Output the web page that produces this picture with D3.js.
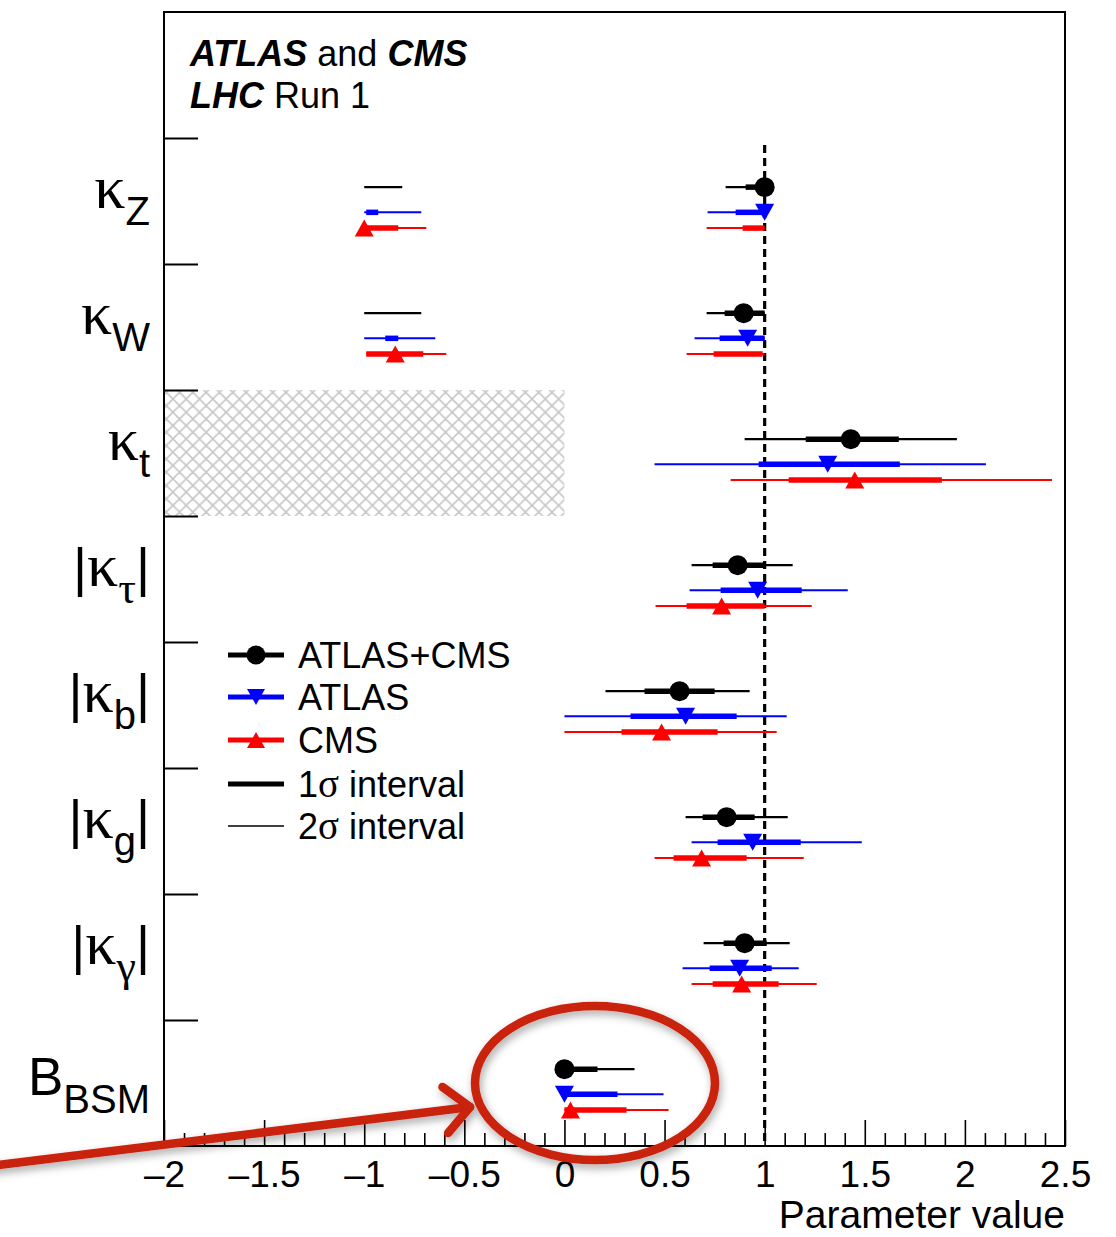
<!DOCTYPE html>
<html><head><meta charset="utf-8">
<script src="https://cdn.jsdelivr.net/npm/d3@7"></script>
<style>body{margin:0;background:#fff}</style>
</head><body>
<script>
// ---------------- data ----------------
const parameters = ["kZ","kW","kt","ktau","kb","kg","kgamma","BBSM"];
const labelPre  = ["", "", "", "|", "|", "|", "|", ""];
const labelMain = ["κ","κ","κ","κ","κ","κ","κ","B"];
const labelSub  = ["Z","W","t","τ","b","g","γ","BSM"];
const labelPost = ["", "", "", "|", "|", "|", "|", ""];

const seriesNames = ["ATLAS+CMS","ATLAS","CMS"];
const seriesColors = ["#000000","#0000ff","#ff0000"];

// central values
const comboCentral = [1.0, 0.895, 1.43, 0.865, 0.575, 0.81, 0.90, 0.0];
const atlasCentral = [1.0, 0.915, 1.315, 0.965, 0.605, 0.94, 0.875, 0.0];
const cmsCentral   = [-1.0, -0.845, 1.45, 0.785, 0.485, 0.685, 0.885, 0.03];

// 1 sigma intervals (list of segments per parameter)
const combo1s = [[[0.905,1.0]], [[0.80,1.0]], [[1.205,1.67]], [[0.74,1.0]], [[0.40,0.75]], [[0.69,0.95]], [[0.795,1.01]], [[0,0.165]]];
const atlas1s = [[[-0.99,-0.93],[0.855,1.0]], [[-0.895,-0.83],[0.775,1.0]], [[0.97,1.675]], [[0.78,1.185]], [[0.33,0.86]], [[0.765,1.18]], [[0.725,1.035]], [[0,0.265]]];
const cms1s   = [[[-1.0,-0.83],[0.89,1.0]], [[-0.99,-0.705],[0.745,0.99]], [[1.12,1.885]], [[0.61,1.0]], [[0.285,0.765]], [[0.545,0.91]], [[0.74,1.07]], [[0,0.31]]];

// 2 sigma intervals
const combo2s = [[[-1.0,-0.81],[0.805,1.0]], [[-1.0,-0.715],[0.71,1.0]], [[0.90,1.96]], [[0.635,1.14]], [[0.205,0.925]], [[0.605,1.115]], [[0.695,1.125]], [[0,0.35]]];
const atlas2s = [[[-1.0,-0.715],[0.715,1.0]], [[-1.0,-0.645],[0.65,1.0]], [[0.45,2.105]], [[0.625,1.415]], [[0.0,1.11]], [[0.635,1.485]], [[0.59,1.17]], [[0,0.495]]];
const cms2s   = [[[-1.0,-0.69],[0.71,1.0]], [[-0.99,-0.59],[0.61,1.0]], [[0.83,2.435]], [[0.455,1.235]], [[0.0,1.06]], [[0.45,1.195]], [[0.635,1.26]], [[0,0.52]]];

const xMajorTicks = [-2,-1.5,-1,-0.5,0,0.5,1,1.5,2,2.5];
const xTickLabels = ["–2","–1.5","–1","–0.5","0","0.5","1","1.5","2","2.5"];
const legendLabels = ["ATLAS+CMS","ATLAS","CMS","1σ interval","2σ interval"];
const excludedRegion = {param: "kt", from: -2, to: 0};
const smValue = 1;

// ---------------- layout ----------------
const W = 1116, H = 1237;
const L = 164, R = 1065, T = 12, B = 1146;
const svg = d3.select("body").append("svg").attr("width", W).attr("height", H)
  .style("font-family", "'Liberation Sans', Arial, sans-serif");

const x = d3.scaleLinear().domain([-2, 2.5]).range([L, R]);
const yBin = d3.scaleLinear().domain([0, 9]).range([T, B]); // bin 0 = empty header row
const yCenter = i => yBin(i + 1.5);
const offsets = [-0.11, 0.09, 0.215];
const yS = (i, s) => yBin(i + 1.5 + offsets[s]);

const defs = svg.append("defs");
const pat = defs.append("pattern").attr("id","hatch").attr("patternUnits","userSpaceOnUse")
  .attr("width", 13.3).attr("height", 13.3);
pat.append("path").attr("d","M0,0L13.3,13.3M13.3,0L0,13.3M-6.65,6.65L6.65,-6.65M6.65,19.95L19.95,6.65M-6.65,6.65L6.65,19.95M6.65,-6.65L19.95,6.65")
  .attr("stroke","#c6c6c6").attr("stroke-width",1.6).attr("fill","none");
const flt = defs.append("filter").attr("id","shadow").attr("x","-20%").attr("y","-20%").attr("width","140%").attr("height","140%");
flt.append("feDropShadow").attr("dx",2).attr("dy",4).attr("stdDeviation",4).attr("flood-color","#000").attr("flood-opacity",0.35);

// hatched excluded region
const ei = parameters.indexOf(excludedRegion.param);
svg.append("rect").attr("x", x(excludedRegion.from)).attr("y", yBin(ei + 1))
  .attr("width", x(excludedRegion.to) - x(excludedRegion.from)).attr("height", yBin(ei + 2) - yBin(ei + 1))
  .attr("fill", "url(#hatch)");

// SM dashed line
svg.append("line").attr("x1", x(smValue)).attr("x2", x(smValue)).attr("y1", yBin(1) + 7).attr("y2", B)
  .attr("stroke","#000").attr("stroke-width",3.2).attr("stroke-dasharray","8,5");

// frame
svg.append("rect").attr("x", L).attr("y", T).attr("width", R - L).attr("height", B - T)
  .attr("fill","none").attr("stroke","#000").attr("stroke-width",2);

// x axis ticks (inside)
const xMinor = d3.range(-2, 2.5001, 0.1).map(v => Math.round(v*10)/10).filter(v => !xMajorTicks.includes(v));
const axMinor = svg.append("g").attr("transform", `translate(0,${B})`)
  .call(d3.axisBottom(x).tickValues(xMinor).tickSize(-13).tickFormat(""));
const axMajor = svg.append("g").attr("transform", `translate(0,${B})`)
  .call(d3.axisBottom(x).tickValues(xMajorTicks).tickSize(-26).tickPadding(15)
    .tickFormat((d, i) => xTickLabels[i]));
[axMinor, axMajor].forEach(g => {
  g.select(".domain").remove();
  g.selectAll("line").attr("stroke","#000").attr("stroke-width",1.6);
});
axMajor.selectAll("text").attr("font-size", 37).attr("font-family","'Liberation Sans', Arial, sans-serif").attr("fill","#000");

// y axis ticks at bin edges
const yAx = svg.append("g").attr("transform", `translate(${L},0)`)
  .call(d3.axisLeft(yBin).tickValues(d3.range(1, 9)).tickSize(-34).tickFormat(""));
yAx.select(".domain").remove();
yAx.selectAll("line").attr("stroke","#000").attr("stroke-width",2);

// axis title
svg.append("text").attr("x", R).attr("y", 1228).attr("text-anchor","end")
  .attr("font-size", 39).text("Parameter value");

// y labels
const serif = "'Liberation Serif','DejaVu Serif',serif";
const sans = "'Liberation Sans', Arial, sans-serif";
parameters.forEach((p, i) => {
  const isB = labelMain[i] === "B";
  const base = yCenter(i) + (isB ? 12 : 7);
  const t = svg.append("text").attr("x", 150).attr("y", base).attr("text-anchor","end");
  if (labelPre[i]) t.append("tspan").attr("font-family", sans).attr("font-size", 54).text(labelPre[i]);
  t.append("tspan").attr("font-family", isB ? sans : serif).attr("font-size", isB ? 53 : 62).text(labelMain[i]);
  const subGreek = /[τγ]/.test(labelSub[i]);
  t.append("tspan").attr("font-family", subGreek ? serif : sans).attr("font-size", subGreek ? 44 : 40)
    .attr("dy", isB ? 18 : 17).text(labelSub[i]);
  if (labelPost[i]) t.append("tspan").attr("font-family", sans).attr("font-size", 54).attr("dy", -17).text(labelPost[i]);
});

// header
const hdr = svg.append("g").attr("font-size", 36);
const h1 = hdr.append("text").attr("x", 190).attr("y", 66);
h1.append("tspan").attr("font-weight","bold").attr("font-style","italic").text("ATLAS");
h1.append("tspan").text(" and ");
h1.append("tspan").attr("font-weight","bold").attr("font-style","italic").text("CMS");
const h2 = hdr.append("text").attr("x", 190).attr("y", 108);
h2.append("tspan").attr("font-weight","bold").attr("font-style","italic").text("LHC");
h2.append("tspan").text(" Run 1");

// markers
function marker(g, s, cx, cy, scale = 1) {
  const c = seriesColors[s];
  if (s === 0) {
    g.append("circle").attr("cx", cx).attr("cy", cy).attr("r", 10 * scale).attr("fill", c);
  } else if (s === 1) {
    const hw = 9.5 * scale, hh = 8.5 * scale;
    g.append("path").attr("d", `M${cx-hw},${cy-hh}L${cx+hw},${cy-hh}L${cx},${cy+hh}Z`).attr("fill", c);
  } else {
    const hw = 9.5 * scale, hh = 8.5 * scale;
    g.append("path").attr("d", `M${cx-hw},${cy+hh}L${cx+hw},${cy+hh}L${cx},${cy-hh}Z`).attr("fill", c);
  }
}

const centrals = [comboCentral, atlasCentral, cmsCentral];
const ones = [combo1s, atlas1s, cms1s];
const twos = [combo2s, atlas2s, cms2s];
const thin = [2.4, 2, 2];
const gData = svg.append("g");
[0,1,2].forEach(s => {
  parameters.forEach((p, i) => {
    const y = yS(i, s);
    twos[s][i].forEach(([a, b]) => gData.append("line").attr("x1", x(a)).attr("x2", x(b)).attr("y1", y).attr("y2", y)
      .attr("stroke", seriesColors[s]).attr("stroke-width", thin[s]));
    ones[s][i].forEach(([a, b]) => gData.append("line").attr("x1", x(a)).attr("x2", x(b)).attr("y1", y).attr("y2", y)
      .attr("stroke", seriesColors[s]).attr("stroke-width", 5.5));
  });
});
[0,1,2].forEach(s => {
  parameters.forEach((p, i) => marker(gData, s, x(centrals[s][i]), yS(i, s)));
});

// legend
const lg = svg.append("g");
const legY = [655, 697, 740, 784, 826];
legendLabels.forEach((lab, k) => {
  const y = legY[k];
  const col = k < 3 ? seriesColors[k] : "#000";
  lg.append("line").attr("x1", 228).attr("x2", 284).attr("y1", y).attr("y2", y)
    .attr("stroke", col).attr("stroke-width", k === 4 ? 1.6 : 5);
  if (k < 3) marker(lg, k, 256, y, 0.95);
  const t = lg.append("text").attr("x", 298).attr("y", y + 13).attr("font-size", 36);
  if (lab.includes("σ")) {
    const parts = lab.split("σ");
    t.append("tspan").text(parts[0]);
    t.append("tspan").attr("font-family", serif).attr("font-size", 39).text("σ");
    t.append("tspan").text(parts[1]);
  } else t.text(lab);
});

// annotation: red ellipse + arrow
const ann = svg.append("g").attr("filter","url(#shadow)").attr("fill","none")
  .attr("stroke","#c9200e").attr("stroke-width",8.5).attr("stroke-linecap","round").attr("stroke-linejoin","round");
ann.append("ellipse").attr("cx", 595).attr("cy", 1083).attr("rx", 120).attr("ry", 77);
const tip = [470, 1107], start = [-10, 1166];
ann.append("line").attr("x1", start[0]).attr("y1", start[1]).attr("x2", tip[0]).attr("y2", tip[1]);
const ang = Math.atan2(tip[1]-start[1], tip[0]-start[0]);
const al = 34;
[ang + Math.PI - 0.75, ang + Math.PI + 0.75].forEach(a => {
  ann.append("line").attr("x1", tip[0]).attr("y1", tip[1])
    .attr("x2", tip[0] + al*Math.cos(a)).attr("y2", tip[1] + al*Math.sin(a));
});
</script>
</body></html>
